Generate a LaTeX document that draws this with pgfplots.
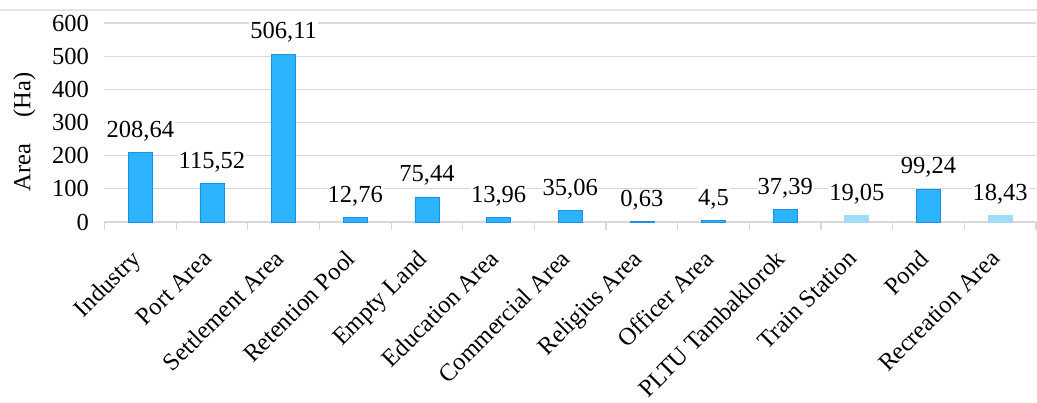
\documentclass[border=0pt]{standalone}
\usepackage{fontspec}
\setmainfont{Liberation Serif}
\usepackage{pgfplots}
\pgfplotsset{compat=1.18}
\usepackage{pgfplotstable}
\definecolor{barblue}{HTML}{2BB3FC}
\definecolor{baredge}{HTML}{1E90E8}
\definecolor{barlight}{HTML}{A0DCFA}
\definecolor{gridgray}{HTML}{D9D9D9}

\pgfplotstableread{
x y label
0.5 208.64 208,64
1.5 115.52 115,52
2.5 506.11 506,11
3.5 12.76 12,76
4.5 75.44 75,44
5.5 13.96 13,96
6.5 35.06 35,06
7.5 0.63 0,63
8.5 4.5 4,5
9.5 37.39 37,39
11.5 99.24 99,24
}\datamain

\pgfplotstableread{
x y label
10.5 19.05 19,05
12.5 18.43 18,43
}\datalight

\begin{document}
\begin{tikzpicture}[font=\fontsize{24.5}{29}\selectfont]
\useasboundingbox (0,0) rectangle (1037pt,-403pt);
\draw[gridgray!70, line width=1.5pt] (0,-10pt) -- (1037pt,-10pt);
\begin{axis}[
  at={(104.5pt,-222pt)}, anchor=south west,
  scale only axis, width=931.5pt, height=199pt,
  ybar, bar width=24pt, bar shift=0pt,
  xmin=0, xmax=13, ymin=0, ymax=600,
  ytick={0,100,...,600},
  xtick={0.5,1.5,...,12.5},
  xticklabels={Industry, Port Area, Settlement Area, Retention Pool, Empty Land, Education Area, Commercial Area, Religius Area, Officer Area, PLTU Tambaklorok, Train Station, Pond, Recreation Area},
  minor xtick={0,1,...,13},
  axis x line*=bottom, axis y line*=left,
  y axis line style={draw=none},
  x axis line style={gridgray, line width=1.2pt},
  ymajorgrids, grid style={gridgray, line width=1.2pt},
  major tick length=0pt, minor tick length=8pt,
  tick align=outside,
  minor tick style={gridgray, line width=1.2pt},
  ytick style={draw=none},
  xticklabel style={rotate=45, anchor=north east, inner sep=0pt, xshift=-26pt, yshift=-11pt},
  yticklabel style={xshift=-12pt},
  /pgf/number format/assume math mode=true,
  ylabel={Area\hspace{26pt}(Ha)},
  ylabel style={at={(rel axis cs:0,0.452)}, anchor=center, yshift=80pt},
  point meta=explicit symbolic,
  nodes near coords,
  nodes near coords style={fill=white, inner sep=1pt, yshift=10pt},
  clip=false,
]
\addplot[fill=barblue, draw=baredge, line width=0.8pt] table[x=x, y=y, meta=label] {\datamain};
\addplot[fill=barlight, draw=barlight, line width=0.8pt] table[x=x, y=y, meta=label] {\datalight};
\end{axis}
\end{tikzpicture}
\end{document}
